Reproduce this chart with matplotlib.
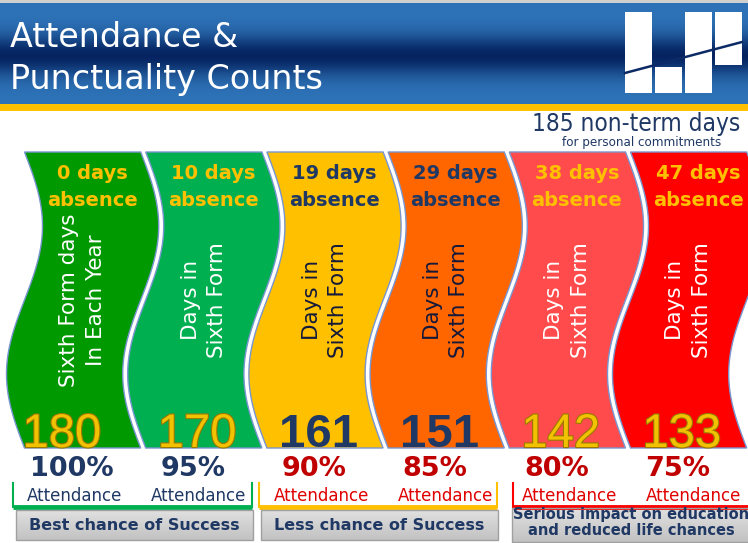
import numpy as np
import matplotlib.pyplot as plt
from matplotlib.patches import Polygon, Rectangle
from matplotlib import font_manager
import matplotlib.patheffects as pe

absence_days = [0, 10, 19, 29, 38, 47]
days_attended = [180, 170, 161, 151, 142, 133]
attendance_pct = [100, 95, 90, 85, 80, 75]
column_colors = ['#009900', '#00b050', '#ffc000', '#ff6600', '#ff4b4b', '#ff0000']
dark_columns = [False, False, True, True, False, False]
side_labels = ['Sixth Form days\nIn Each Year'] + ['Days in\nSixth Form'] * 5
group_labels = ['Best chance of Success', 'Less chance of Success',
                'Serious impact on education\nand reduced life chances']
group_colors = ['#00b050', '#ffc000', '#ff0000']

NAVY = '#1f3864'
GOLD = '#ffc000'
RED = '#c00000'


def narrow_font():
    # look for any condensed / narrow regular face
    for f in font_manager.fontManager.ttflist:
        n = f.fname.lower()
        if ('narrow' in n or 'condensed' in n) and not any(s in n for s in ('bold', 'oblique', 'italic', 'light')):
            return f.fname
    return None


narrow = narrow_font()

fig = plt.figure(figsize=(7.48, 5.43), dpi=100)
ax = fig.add_axes([0, 0, 1, 1])
ax.set_xlim(0, 748)
ax.set_ylim(543, 0)
ax.axis('off')

# header band
ax.add_patch(Rectangle((0, 0), 748, 3, color='#cfcfcf', lw=0))
t = np.linspace(0, 1, 200)
w = np.exp(-((t - 0.52) / 0.2) ** 2)
light = np.array([0.18, 0.45, 0.72])
dark = np.array([0.02, 0.14, 0.38])
grad = light * (1 - w[:, None]) + dark * w[:, None]
ax.imshow(grad[:, None, :], extent=[0, 748, 104, 3], aspect='auto', zorder=1)
ax.add_patch(Rectangle((0, 104), 748, 7, color=GOLD, lw=0, zorder=2))
ax.text(10, 47, 'Attendance &', color='white', fontsize=24, zorder=3)
ax.text(10, 89, 'Punctuality Counts', color='white', fontsize=24, zorder=3)

# logo
for x, y, bw, bh in [(625, 12, 27, 81), (655, 67, 27, 26), (685, 12, 27, 81), (715, 12, 27, 53)]:
    ax.add_patch(Rectangle((x, y), bw, bh, color='white', lw=0, zorder=3))
ax.plot([625, 742], [73, 42], color='#0b2a66', lw=1.8, zorder=4)

if narrow:
    big = font_manager.FontProperties(fname=narrow, size=17.5)
    small = font_manager.FontProperties(fname=narrow, size=9.5)
else:
    big = font_manager.FontProperties(family='DejaVu Sans', size=15)
    small = font_manager.FontProperties(family='DejaVu Sans', size=8)
ax.text(636, 131, '185 non-term days', color=NAVY, ha='center', fontproperties=big)
ax.text(642, 146, 'for personal commitments', color=NAVY, ha='center', fontproperties=small)

# wavy columns
top, bottom = 152, 448
amp = 18
x0, step = 22, 121.2
ys = np.linspace(top, bottom, 150)


def edge(k, y):
    return x0 + k * step + amp * np.sin(2 * np.pi * (y - top) / (bottom - top))


def centre(k, y):
    return (edge(k, y) + edge(k + 1, y)) / 2


for i, color in enumerate(column_colors):
    left = edge(i, ys) + 2.5
    right = edge(i + 1, ys) - 2.5
    pts = np.vstack([np.column_stack([left, ys]), np.column_stack([right[::-1], ys[::-1]])])
    ax.add_patch(Polygon(pts, closed=True, fc=color, ec='#7895cf', lw=1, zorder=2))

    head_color = NAVY if dark_columns[i] else GOLD
    hx = centre(i, 178)
    ax.text(hx, 179, f'{absence_days[i]} days', color=head_color,
            fontsize=14, fontweight='bold', ha='center', zorder=3)
    ax.text(hx, 206, 'absence', color=head_color,
            fontsize=14, fontweight='bold', ha='center', zorder=3)

    side_color = '#15193a' if dark_columns[i] else 'white'
    ax.text(centre(i, 300), 300, side_labels[i], color=side_color, fontsize=15.5,
            rotation=90, ha='center', va='center', linespacing=1.4, zorder=3)

    nx = centre(i, 430) - (14 if i == 0 else 0)
    if dark_columns[i]:
        ax.text(nx, 447, str(days_attended[i]), color=NAVY, fontsize=34,
                fontweight='bold', family='Liberation Sans', ha='center', zorder=3)
    else:
        ax.text(nx, 447, str(days_attended[i]), color='#f2c200', fontsize=34,
                family='Liberation Sans', ha='center', zorder=3,
                path_effects=[pe.withStroke(linewidth=1.6, foreground='#9a7800')])

    pct_color = NAVY if attendance_pct[i] >= 95 else RED
    mid = x0 + (i + 0.5) * step
    ax.text(mid - 11, 476, f'{attendance_pct[i]}%', color=pct_color, fontsize=19.5,
            fontweight='bold', ha='center')
    ax.text(mid - 8 + 2.5 * i, 501, 'Attendance', color='#e00000' if pct_color == RED else NAVY,
            fontsize=12, ha='center')

# brackets and grey boxes
brackets = [(13, 252), (259, 497), (513, 760)]
boxes = [(16, 253, 510, 540), (261, 498, 510, 540), (512, 750, 508, 542)]
box_grad = np.linspace(0.88, 0.76, 50)
for (bl, br), (l, r, b0, b1), label, gc in zip(brackets, boxes, group_labels, group_colors):
    ax.plot([bl, bl], [483, 507], color=gc, lw=1.5)
    ax.plot([br, br], [483, 507], color=gc, lw=1.5)
    ax.plot([bl, br], [507, 507], color=gc, lw=3.5, solid_capstyle='butt')
    ax.imshow(np.repeat(box_grad[:, None, None], 3, axis=2), extent=[l, r, b1, b0],
              aspect='auto', zorder=1)
    ax.add_patch(Rectangle((l, b0), r - l, b1 - b0, fc='none', ec='#a0a0a0', lw=1, zorder=2))
    if '\n' in label:
        first, second = label.split('\n')
        ax.text((l + r) / 2, 519, first, color=NAVY, fontsize=10.5, fontweight='bold',
                ha='center', zorder=3)
        ax.text((l + r) / 2, 535, second, color=NAVY, fontsize=10.5, fontweight='bold',
                ha='center', zorder=3)
    else:
        ax.text((l + r) / 2, 530, label, color=NAVY, fontsize=11.5, fontweight='bold',
                ha='center', zorder=3)

ax.set_xlim(0, 748)
ax.set_ylim(543, 0)
fig.savefig('out.png', dpi=100)
